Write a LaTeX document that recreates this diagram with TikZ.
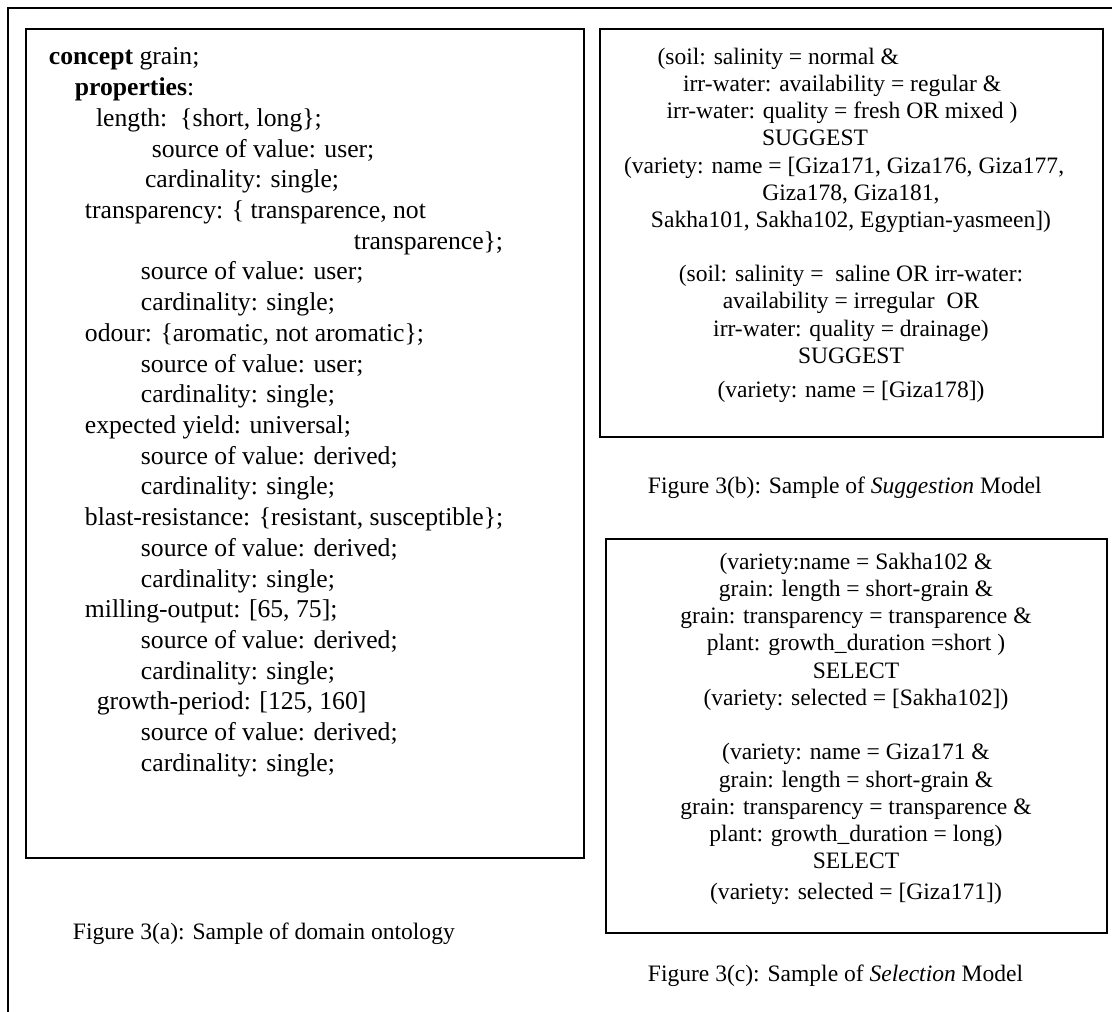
\documentclass[tikz,border=0pt]{standalone}
\usepackage{fontspec}
\setmainfont{Liberation Serif}
\usetikzlibrary{positioning}
\tikzset{
  every picture/.style={x=0.4673pt, y=-0.4673pt, line width=0.9pt},
  frame/.style={draw=black, line width=0.9pt},
  ontotext/.style={font=\fontsize{12}{14.35}\selectfont, align=left, inner sep=0pt, anchor=north west},
  ruletext/.style={font=\fontsize{11}{12.7}\selectfont, align=center, inner sep=0pt, anchor=north},
  caption/.style={font=\fontsize{11}{13}\selectfont, inner sep=0pt, anchor=base west},
}
% a centred line that sits a little to the left
\newcommand{\leftby}[2]{\hbox{#2\kern#1}}

\begin{document}
\begin{tikzpicture}
  \useasboundingbox (0,0) rectangle (1112,1012);
  \clip (0,0) rectangle (1112,1012);
  % outer frame, cut by the page on the right and at the bottom
  \draw[frame] (8,1040) -- (8,8) -- (1140,8);
  % the three boxes
  \draw[frame] (26,29) rectangle (584,858);
  \draw[frame] (600,29) rectangle (1103,437);
  \draw[frame] (606,539) rectangle (1107,933);
  % (a) domain ontology
  \node[ontotext] (onto) at (48,47) {%
    \textbf{concept} grain;\\
    \hspace*{12.1pt}\textbf{properties}:\\
    \hspace*{22pt}length:\ \ \{short, long\};\\
    \hspace*{48.1pt}source of value: user;\\
    \hspace*{44.9pt}cardinality: single;\\
    \hspace*{16.8pt}transparency: \{ transparence, not\\
    \hspace*{142.5pt}transparence\};\\
    \hspace*{43pt}source of value: user;\\
    \hspace*{43pt}cardinality: single;\\
    \hspace*{16.8pt}odour: \{aromatic, not aromatic\};\\
    \hspace*{43pt}source of value: user;\\
    \hspace*{43pt}cardinality: single;\\
    \hspace*{16.8pt}expected yield: universal;\\
    \hspace*{43pt}source of value: derived;\\
    \hspace*{43pt}cardinality: single;\\
    \hspace*{16.8pt}blast-resistance: \{resistant, susceptible\};\\
    \hspace*{43pt}source of value: derived;\\
    \hspace*{43pt}cardinality: single;\\
    \hspace*{16.8pt}milling-output: [65, 75];\\
    \hspace*{43pt}source of value: derived;\\
    \hspace*{43pt}cardinality: single;\\
    \hspace*{22.4pt}growth-period: [125, 160]\\
    \hspace*{43pt}source of value: derived;\\
    \hspace*{43pt}cardinality: single;};
  % (b) suggestion rules
  \node[ruletext] (suggest) at (851,47) {%
    \leftby{68pt}{(soil: salinity = normal \&}\\
    \leftby{8.4pt}{irr-water: availability = regular \&}\\
    \leftby{8.4pt}{irr-water: quality = fresh OR mixed )}\\
    \leftby{33.6pt}{SUGGEST}\\
    \leftby{6.5pt}{(variety: name = [Giza171, Giza176, Giza177,}\\
    Giza178, Giza181,\\
    Sakha101, Sakha102, Egyptian-yasmeen])\\[12.7pt]
    (soil: salinity = \ saline OR irr-water:\\
    availability = irregular \ OR\\
    irr-water: quality = drainage)\\
    SUGGEST\\[3.3pt]
    (variety: name = [Giza178])};
  % (c) selection rules
  \node[ruletext] (select) at (856,552) {%
    (variety:name = Sakha102 \&\\
    grain: length = short-grain \&\\
    grain: transparency = transparence \&\\
    plant: growth\_duration =short )\\
    SELECT\\
    (variety: selected = [Sakha102])\\[12.9pt]
    (variety: name = Giza171 \&\\
    grain: length = short-grain \&\\
    grain: transparency = transparence \&\\
    plant: growth\_duration = long)\\
    SELECT\\[1.5pt]
    (variety: selected = [Giza171])};
  % captions
  \node[caption] (capa) at (72,939) {Figure 3(a): Sample of domain ontology};
  \node[caption] (capb) at (647,493) {Figure 3(b): Sample of \textit{Suggestion} Model};
  \node[caption] (capc) at (647,981) {Figure 3(c): Sample of \textit{Selection} Model};
\end{tikzpicture}
\end{document}
